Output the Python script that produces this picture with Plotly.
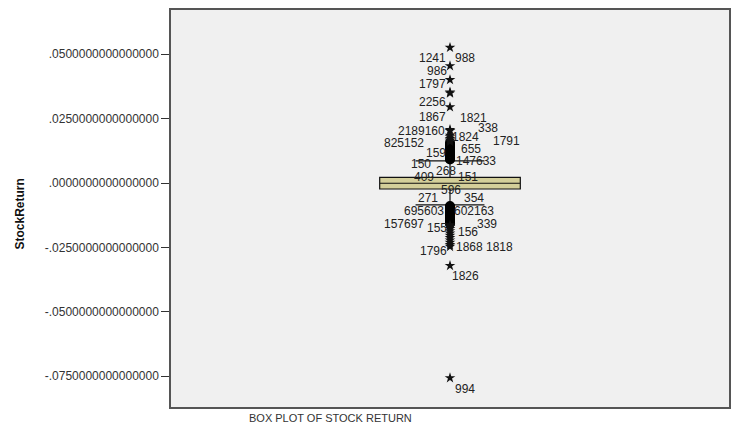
import plotly.graph_objects as go

# ---- data ----
category = ["BOX PLOT OF STOCK RETURN"]
q1 = [-0.00233]
median = [-0.0001]
q3 = [0.00221]
lower_fence = [-0.0085]
upper_fence = [0.0086]

# outliers (circles: > 1.5 IQR, stars: > 3 IQR)
outliers_circle = [0.0091, 0.0094, 0.0098, 0.0101, 0.0105, 0.0109, 0.0112, 0.0117,
                   0.0121, 0.0124, 0.0129, 0.0133, 0.0137, 0.0142, 0.0147, 0.0151, 0.0156,
                   -0.0089, -0.0093, -0.0096, -0.0100, -0.0104, -0.0108, -0.0111, -0.0115,
                   -0.0120, -0.0123, -0.0127, -0.0131, -0.0136, -0.0140, -0.0144, -0.0149,
                   -0.0153, -0.0157]
outliers_star = [0.0161, 0.0166, 0.0172, 0.0179, 0.0185, 0.0203, 0.0207, 0.0295,
                 0.0349, 0.0353, 0.0401, 0.0455, 0.0526,
                 -0.0163, -0.0170, -0.0178, -0.0186, -0.0195, -0.0204, -0.0213, -0.0222,
                 -0.0231, -0.0240, -0.0247, -0.0321, -0.0757]

# case labels and their value positions
label_text = ["1241", "988", "986", "1797", "2256", "1867", "1821", "2189160", "338",
              "825152", "1824", "1791", "655", "159", "150", "147633", "268", "409",
              "151", "596", "271", "354", "695603", "602163", "157697", "155", "156",
              "339", "1796", "1868", "1818", "1826", "994"]
label_value = [0.0485, 0.0485, 0.0435, 0.0384, 0.0315, 0.0256, 0.0252, 0.0202, 0.0214,
               0.0155, 0.0179, 0.0163, 0.0132, 0.0117, 0.0074, 0.0085, 0.0047, 0.0023,
               0.0023, -0.0027, -0.0058, -0.0058, -0.0109, -0.0109, -0.0159, -0.0175,
               -0.0190, -0.0159, -0.0264, -0.0249, -0.0249, -0.0361, -0.0800]
# horizontal pixel offsets of label left edges from box centre (style)
label_dx = [-33.5, 2.5, -25.5, -33.5, -33.5, -33.5, 7.5, -54.5, 25.5,
            -68.5, -0.5, 40.5, 8.5, -26.5, -41.5, 3.5, -16.5, -38.5,
            5.5, -11.5, -34.5, 11.5, -48.5, 1.5, -68.5, -25.5, 5.5,
            24.5, -32.5, 3.5, 33.5, -0.5, 2.5]

tick_vals = [0.05, 0.025, 0.0, -0.025, -0.05, -0.075]
tick_text = [".0500000000000000", ".0250000000000000", ".0000000000000000",
             "-.0250000000000000", "-.0500000000000000", "-.0750000000000000"]

y_title = "StockReturn"

FONT = "Liberation Sans, Arial, sans-serif"

fig = go.Figure()
fig.add_trace(go.Box(
    x=category, q1=q1, median=median, q3=q3,
    lowerfence=lower_fence, upperfence=upper_fence,
    boxpoints=False, width=0.252, whiskerwidth=0.49,
    fillcolor="#d4cf9a", line=dict(color="#111111", width=1.2),
    hoverinfo="skip", showlegend=False,
))
fig.add_trace(go.Scatter(
    x=category * len(outliers_circle), y=outliers_circle, mode="markers",
    marker=dict(symbol="circle-open", size=8, line=dict(color="black", width=2), color="black"),
    showlegend=False, hoverinfo="skip",
))
fig.add_trace(go.Scatter(
    x=category * len(outliers_star), y=outliers_star, mode="markers",
    marker=dict(symbol="star", size=8, color="#111111"),
    showlegend=False, hoverinfo="skip",
))

for t, v, dx in zip(label_text, label_value, label_dx):
    fig.add_annotation(x=0, y=v, xref="x", yref="y", text=t, showarrow=False,
                       xanchor="left", yanchor="middle", xshift=dx,
                       font=dict(family=FONT, size=12, color="#222222"))

fig.add_annotation(text="<b>" + y_title + "</b>", xref="paper", yref="paper",
                   x=(19 - 171) / 560, y=(407 - 214) / 397, textangle=-90,
                   showarrow=False, xanchor="center", yanchor="middle",
                   font=dict(family=FONT, size=12, color="#111111"))
fig.add_annotation(text=category[0], xref="paper", yref="paper",
                   x=(331 - 171) / 560, y=(407 - 418) / 397, showarrow=False,
                   xanchor="center", yanchor="middle",
                   font=dict(family=FONT, size=11, color="#333333"))

fig.update_layout(
    width=733, height=426,
    margin=dict(l=171, r=2, t=10, b=19),
    paper_bgcolor="white", plot_bgcolor="#f0f0f0",
    font=dict(family=FONT, size=12, color="#333333"),
    xaxis=dict(type="category", range=[-0.5, 0.5], showticklabels=False, ticks="",
               showgrid=False, zeroline=False, showline=True, mirror=True,
               linecolor="#555555", linewidth=1.5),
    yaxis=dict(range=[-0.0870, 0.0672], tickvals=tick_vals, ticktext=tick_text,
               ticks="outside", ticklen=8, tickcolor="#333333", tickwidth=1,
               showgrid=False, zeroline=False, showline=True, mirror=True,
               linecolor="#555555", linewidth=1.5,
               tickfont=dict(family=FONT, size=12, color="#333333")),
)

fig.write_html("out.html", config={"responsive": False, "displayModeBar": False},
               post_script="document.body.style.margin='0';document.body.style.overflow='hidden';")
